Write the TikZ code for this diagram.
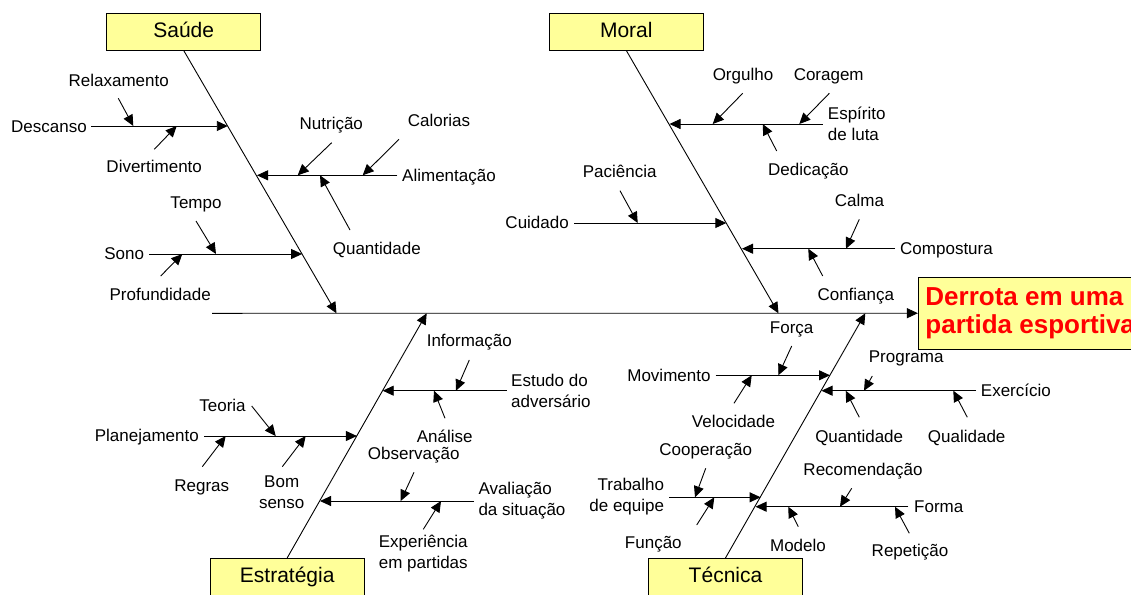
\documentclass[tikz,border=0pt]{standalone}
\usepackage{fontspec}
\setmainfont{Liberation Sans}
\usetikzlibrary{arrows.meta}
\definecolor{catfill}{HTML}{FFFF99}
\begin{document}
\begin{tikzpicture}[x=1pt,y=-1pt,
  cat/.style={draw=black, line width=0.9pt, fill=catfill, minimum width=154pt,
    minimum height=36.7pt, inner sep=0pt, text height=15pt, text depth=4pt,
    font=\fontsize{21}{25}\selectfont},
  headbox/.style={draw=black, line width=0.9pt, fill=catfill, minimum width=223.7pt,
    minimum height=71.7pt, inner sep=0pt, align=left, text=red,
    font=\bfseries\fontsize{26}{27.6}\selectfont},
  lbl/.style={inner sep=0pt, font=\fontsize{17}{21}\selectfont, anchor=base, yshift=-6.2pt},
  lblw/.style={lbl, anchor=base west},
  lble/.style={lbl, anchor=base east},
  two/.style={inner sep=0pt, font=\fontsize{17}{21}\selectfont},
  arr/.style={-{Triangle[length=11pt,width=10pt]}, line width=0.9pt, black},
]
\useasboundingbox (0,0) rectangle (1131,594);
\clip (0,0) rectangle (1131,594);

% ---- effect and category boxes
\node[headbox] (head) at (1030.2,313.2) {Derrota em uma\\partida esportiva};
\node[cat] (saude) at (183.7,31.7) {Saúde};
\node[cat] (moral) at (626.3,31.7) {Moral};
\node[cat] (estrategia) at (287.2,576.7) {Estratégia};
\node[cat] (tecnica) at (725.5,576.7) {Técnica};

% ---- main spine and category spines
\coordinate (tail) at (212,313.3);
\coordinate (sT) at (336.5,313.3);
\coordinate (mT) at (778.5,313.3);
\coordinate (eT) at (426.7,313.3);
\coordinate (tT) at (865.3,313.3);
\draw[arr] (tail) -- (head.west);
\draw[arr] (saude.south) -- (sT);
\draw[arr] (moral.south) -- (mT);
\draw[arr] (estrategia.north) -- (eT);
\draw[arr] (tecnica.north) -- (tT);

% ================= Saúde =================
\node[lble] (descanso) at (87,126) {Descanso};
\node[lbl] (relax) at (118.7,80) {Relaxamento};
\node[lbl] (divert) at (154.2,166.7) {Divertimento};
\coordinate (b1s) at (91,126);       \coordinate (b1t) at (227.8,126);
\coordinate (r1s) at (118.3,98.3);   \coordinate (r1t) at (133.3,126);
\coordinate (r2s) at (154.3,149.3);  \coordinate (r2t) at (176.7,126);
\draw[arr] (b1s) -- (b1t);
\draw[arr] (r1s) -- (r1t);
\draw[arr] (r2s) -- (r2t);

\node[lblw] (aliment) at (402,175) {Alimentação};
\node[lbl] (nutri) at (331.3,123.3) {Nutrição};
\node[lbl] (calor) at (439,120) {Calorias};
\node[lbl] (quant1) at (376.8,248.3) {Quantidade};
\coordinate (b2s) at (397.3,175.3);  \coordinate (b2t) at (257,175.3);
\coordinate (a1s) at (331.7,142.7);  \coordinate (a1t) at (297.7,175.3);
\coordinate (a2s) at (399,139.3);    \coordinate (a2t) at (362.7,175.3);
\coordinate (a3s) at (350,230);      \coordinate (a3t) at (320,175.3);
\draw[arr] (b2s) -- (b2t);
\draw[arr] (a1s) -- (a1t);
\draw[arr] (a2s) -- (a2t);
\draw[arr] (a3s) -- (a3t);

\node[lble] (sono) at (144.3,253.5) {Sono};
\node[lbl] (tempo) at (196,202.3) {Tempo};
\node[lbl] (profund) at (160.2,294) {Profundidade};
\coordinate (b3s) at (149.3,254);    \coordinate (b3t) at (302.1,254);
\coordinate (s1s) at (196,221);      \coordinate (s1t) at (216,254);
\coordinate (s2s) at (160.7,276);    \coordinate (s2t) at (182.3,254);
\draw[arr] (b3s) -- (b3t);
\draw[arr] (s1s) -- (s1t);
\draw[arr] (s2s) -- (s2t);

% ================= Moral =================
\node[two, anchor=west, align=left] (espirito) at (827.7,124) {Espírito\\de luta};
\node[lbl] (orgulho) at (743,74) {Orgulho};
\node[lbl] (coragem) at (828.7,74) {Coragem};
\node[lbl] (dedic) at (808.3,169.3) {Dedicação};
\coordinate (b4s) at (822.7,124);    \coordinate (b4t) at (669.5,124);
\coordinate (e1s) at (742.7,93.3);   \coordinate (e1t) at (712.7,124);
\coordinate (e2s) at (829.3,93.3);   \coordinate (e2t) at (799.3,124);
\coordinate (e3s) at (776.7,151);    \coordinate (e3t) at (762.7,124);
\draw[arr] (b4s) -- (b4t);
\draw[arr] (e1s) -- (e1t);
\draw[arr] (e2s) -- (e2t);
\draw[arr] (e3s) -- (e3t);

\node[lble] (cuidado) at (569,222.7) {Cuidado};
\node[lbl] (pacien) at (619.7,171) {Paciência};
\coordinate (b5s) at (574,223);      \coordinate (b5t) at (726.3,223);
\coordinate (c1s) at (620,190.7);    \coordinate (c1t) at (637.7,223);
\draw[arr] (b5s) -- (b5t);
\draw[arr] (c1s) -- (c1t);

\node[lblw] (compost) at (900,248.3) {Compostura};
\node[lbl] (calma) at (859.5,200) {Calma};
\node[lbl] (confian) at (855.8,294.3) {Confiança};
\coordinate (b6s) at (895,248.7);    \coordinate (b6t) at (742,248.7);
\coordinate (p1s) at (859.3,219.3);  \coordinate (p1t) at (846,248.7);
\coordinate (p2s) at (822.7,276);    \coordinate (p2t) at (808.3,248.7);
\draw[arr] (b6s) -- (b6t);
\draw[arr] (p1s) -- (p1t);
\draw[arr] (p2s) -- (p2t);

% ================= Estratégia =================
\node[two, anchor=west, align=left] (estudo) at (511,390.7) {Estudo do\\adversário};
\node[lbl] (inform) at (469.3,340) {Informação};
\node[lbl] (analise) at (444.7,436) {Análise};
\coordinate (b7s) at (506.7,390.7);  \coordinate (b7t) at (382.7,390.7);
\coordinate (i1s) at (469.3,360);    \coordinate (i1t) at (456,390.7);
\coordinate (i2s) at (445,418.3);    \coordinate (i2t) at (434,390.7);
\draw[arr] (b7s) -- (b7t);
\draw[arr] (i1s) -- (i1t);
\draw[arr] (i2s) -- (i2t);

\node[lble] (planej) at (199,435.5) {Planejamento};
\node[lbl] (teoria) at (222.5,405) {Teoria};
\node[lbl] (regras) at (201.8,485) {Regras};
\node[two, align=center] (bomsenso) at (281.7,492) {Bom\\senso};
\coordinate (b8s) at (204,436);      \coordinate (b8t) at (356.9,436);
\coordinate (t1s) at (251.7,406);    \coordinate (t1t) at (275.7,436);
\coordinate (t2s) at (202.3,466.7);  \coordinate (t2t) at (225.7,436);
\coordinate (t3s) at (282.3,466.7);  \coordinate (t3t) at (305.7,436);
\draw[arr] (b8s) -- (b8t);
\draw[arr] (t1s) -- (t1t);
\draw[arr] (t2s) -- (t2t);
\draw[arr] (t3s) -- (t3t);

\node[two, anchor=west, align=left] (avalia) at (478.3,500.7) {Avaliação\\da situação};
\node[lbl] (observ) at (413.7,453.3) {Observação};
\node[two, align=left] (experien) at (423.3,553.8) {Experiência\\em partidas};
\coordinate (b9s) at (474,501);      \coordinate (b9t) at (320,501);
\coordinate (o1s) at (414,472.3);    \coordinate (o1t) at (400.7,501);
\coordinate (o2s) at (423.3,529.3);  \coordinate (o2t) at (441,501);
\draw[arr] (b9s) -- (b9t);
\draw[arr] (o1s) -- (o1t);
\draw[arr] (o2s) -- (o2t);

% ================= Técnica =================
\node[lblw] (exerc) at (980.7,390) {Exercício};
\node[lbl] (program) at (906.2,356) {Programa};
\node[lbl] (quant2) at (859.2,436) {Quantidade};
\node[lbl] (qualid) at (966.7,436) {Qualidade};
\coordinate (bAs) at (976,390.7);    \coordinate (bAt) at (821.5,390.7);
\coordinate (x1s) at (872.3,376);    \coordinate (x1t) at (864,390.7);
\coordinate (x2s) at (859.3,417.3);  \coordinate (x2t) at (845.7,390.7);
\coordinate (x3s) at (967.3,417.3);  \coordinate (x3t) at (953.3,390.7);
\draw[arr] (bAs) -- (bAt);
\draw[arr] (x1s) -- (x1t);
\draw[arr] (x2s) -- (x2t);
\draw[arr] (x3s) -- (x3t);

\node[lble] (movim) at (710.7,375) {Movimento};
\node[lbl] (forca) at (791.7,327.3) {Força};
\node[lbl] (veloc) at (733.5,421) {Velocidade};
\coordinate (bBs) at (715.7,375.3);  \coordinate (bBt) at (830,375.3);
\coordinate (m1s) at (791.7,346);    \coordinate (m1t) at (778.3,375.3);
\coordinate (m2s) at (734,403.3);    \coordinate (m2t) at (751.7,375.3);
\draw[arr] (bBs) -- (bBt);
\draw[arr] (m1s) -- (m1t);
\draw[arr] (m2s) -- (m2t);

\node[two, anchor=east, align=right] (trabalho) at (664.3,496.7) {Trabalho\\de equipe};
\node[lbl] (cooper) at (705.7,449.3) {Cooperação};
\node[lbl] (funcao) at (653.3,542.7) {Função};
\coordinate (bCs) at (669.3,497.3);  \coordinate (bCt) at (760.6,497.3);
\coordinate (w1s) at (705.7,468.3);  \coordinate (w1t) at (695,497.3);
\coordinate (w2s) at (696.7,525);    \coordinate (w2t) at (714.3,497.3);
\draw[arr] (bCs) -- (bCt);
\draw[arr] (w1s) -- (w1t);
\draw[arr] (w2s) -- (w2t);

\node[lblw] (forma) at (914,506) {Forma};
\node[lbl] (recom) at (863,469.3) {Recomendação};
\node[lbl] (modelo) at (798,545) {Modelo};
\node[lbl] (repet) at (910,550.7) {Repetição};
\coordinate (bDs) at (908.3,506.7);  \coordinate (bDt) at (755.5,506.7);
\coordinate (f1s) at (851.7,488.3);  \coordinate (f1t) at (840,506.7);
\coordinate (f2s) at (798.3,526.7);  \coordinate (f2t) at (788.3,506.7);
\coordinate (f3s) at (909.3,533.3);  \coordinate (f3t) at (895,506.7);
\draw[arr] (bDs) -- (bDt);
\draw[arr] (f1s) -- (f1t);
\draw[arr] (f2s) -- (f2t);
\draw[arr] (f3s) -- (f3t);
\end{tikzpicture}
\end{document}
